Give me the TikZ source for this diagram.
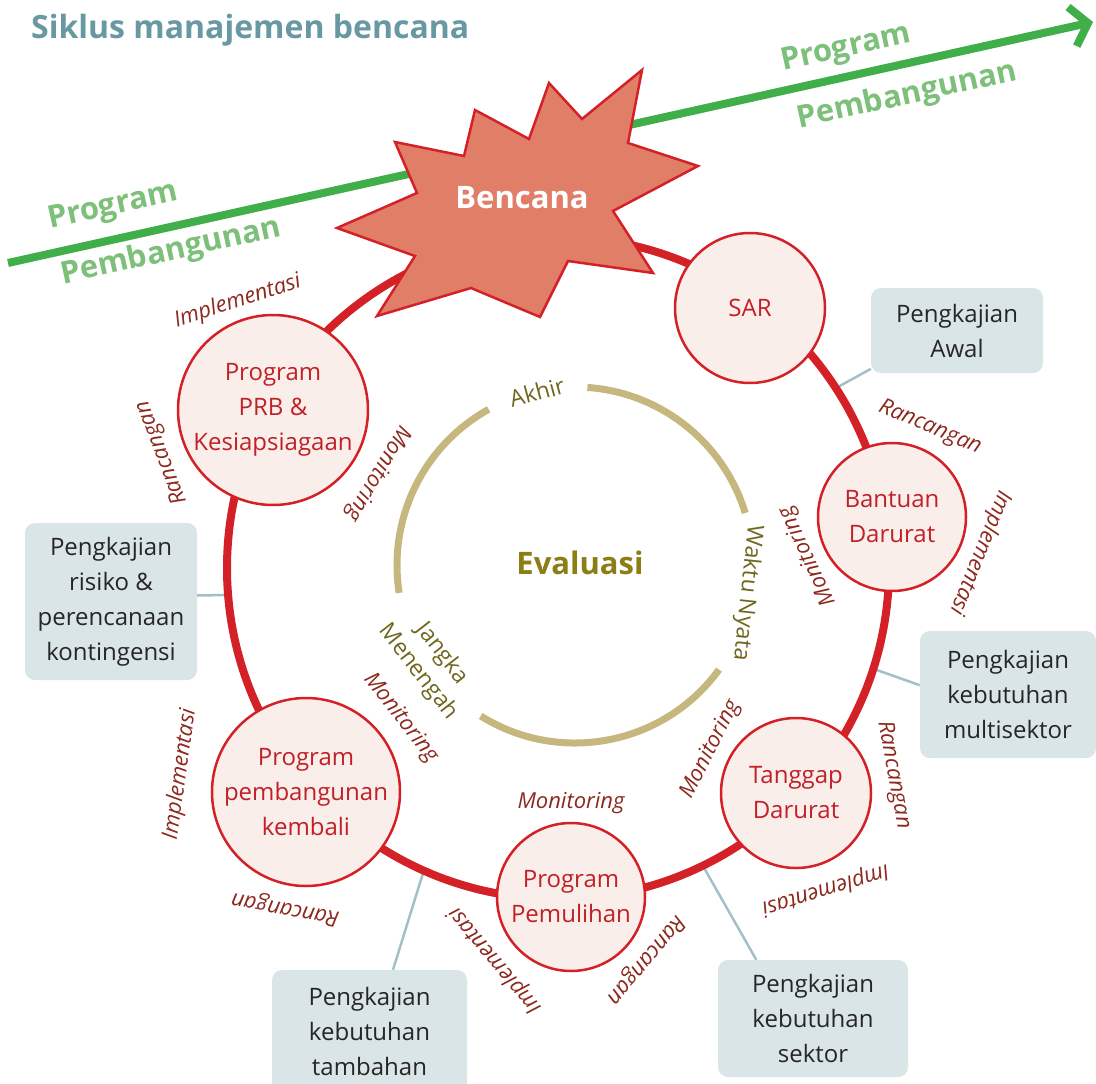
\documentclass[tikz,border=0pt]{standalone}
\usepackage{fontspec}
\setmainfont{Open Sans}
\usetikzlibrary{arrows.meta}
\definecolor{ringred}{RGB}{212,33,39}
\definecolor{stagefill}{RGB}{250,238,235}
\definecolor{stagetext}{RGB}{192,32,38}
\definecolor{phasetext}{RGB}{140,40,30}
\definecolor{boxfill}{RGB}{218,229,231}
\definecolor{boxline}{RGB}{163,192,201}
\definecolor{evalring}{RGB}{197,183,126}
\definecolor{evaltext}{RGB}{112,102,30}
\definecolor{evalbold}{RGB}{140,125,20}
\definecolor{devgreen}{RGB}{64,174,73}
\definecolor{devtext}{RGB}{125,192,122}
\definecolor{starfill}{RGB}{224,126,103}
\definecolor{titleblue}{RGB}{104,152,162}

\begin{document}
\begin{tikzpicture}[x=1pt,y=1pt,line join=round]
    \tikzstyle{stage} = [circle,draw=ringred,line width=2.5pt,fill=stagefill,
                         text=stagetext,align=center,inner sep=0pt,
                         font=\fontsize{24}{35}\selectfont]
    \tikzstyle{assess} = [fill=boxfill,rounded corners=10pt,align=center,
                          text=black!85,inner sep=0pt,font=\fontsize{24}{35}\selectfont]
    \tikzstyle{phase} = [text=phasetext,inner sep=1pt,
                         font=\fontsize{22}{26}\selectfont\itshape]
    \tikzstyle{evalann} = [text=evaltext,align=center,inner sep=1pt,
                           font=\fontsize{23}{30}\selectfont]
    \tikzstyle{devann} = [text=devtext,rotate=12.5,inner sep=0pt,
                          font=\fontsize{31}{36}\selectfont\bfseries]
    \tikzstyle{link} = [draw=boxline,line width=2.5pt]
    \useasboundingbox (0,0) rectangle (1096,-1084);
    \clip (0,0) rectangle (1096,-1084);
    % assessment boxes
    \node[assess,minimum width=172pt,minimum height=85pt] (awal) at (957,-330.5)
        {Pengkajian\\Awal};
    \node[assess,minimum width=172pt,minimum height=157pt] (risiko) at (111,-601.5)
        {Pengkajian\\risiko \&\\perencanaan\\kontingensi};
    \node[assess,minimum width=176pt,minimum height=127pt] (multi) at (1008,-694.5)
        {Pengkajian\\kebutuhan\\multisektor};
    \node[assess,minimum width=190pt,minimum height=117pt] (sektor) at (813,-1018.5)
        {Pengkajian\\kebutuhan\\sektor};
    \node[assess,minimum width=195pt,minimum height=122pt] (tambahan) at (369.5,-1031)
        {Pengkajian\\kebutuhan\\tambahan};
    \coordinate (pa) at (836,-388);
    \coordinate (pr) at (228,-595);
    \coordinate (pm) at (874,-669);
    \coordinate (ps) at (703,-866);
    \coordinate (pt) at (424,-870);
    \draw[link] (awal.204) -- (pa);
    \draw[link] (risiko.4) -- (pr);
    \draw[link] (multi.174) -- (pm);
    \draw[link] (sektor.134) -- (ps);
    \draw[link] (tambahan.69) -- (pt);
    % cycle and evaluation ring
    \draw[ringred,line width=8pt] (558,-568) circle (331);
    \draw[evalring,line width=7pt] (575,-565) ++(17:178) arc[start angle=17,end angle=86,radius=178];
    \draw[evalring,line width=7pt] (575,-565) ++(119:178) arc[start angle=119,end angle=189,radius=178];
    \draw[evalring,line width=7pt] (575,-565) ++(238:178) arc[start angle=238,end angle=324,radius=178];
    \node[text=evalbold,font=\fontsize{31}{36}\selectfont\bfseries] (eval) at (580,-563) {Evaluasi};
    \node[evalann,rotate=15] (akhir) at (537,-392) {Akhir};
    \node[evalann,rotate=-96] (waktu) at (747,-593) {Waktu Nyata};
    \node[evalann,rotate=-52] (jangka) at (430,-663) {Jangka\\Menengah};
    % development line and disaster
    \coordinate (devl) at (8,-263);
    \coordinate (devr) at (1093,-22);
    \draw[devgreen,line width=8pt,-{Straight Barb[length=16pt,width=40pt]}] (devl) -- (devr);
    \node[devann] (dev1a) at (113,-207) {Program};
    \node[devann] (dev1b) at (171,-252) {Pembangunan};
    \node[devann] (dev2a) at (846,-49) {Program};
    \node[devann] (dev2b) at (907,-96) {Pembangunan};
    \filldraw[fill=starfill,draw=ringred,line width=2.5pt,line join=miter]
        (395,-142)--(464,-156)--(475,-110)--(529,-139)--(549,-83)--(582,-119)
        --(642,-70)--(628,-143)--(698,-166)--(613,-211)--(653,-273)--(568,-261)
        --(540,-317)--(471,-288)--(377,-316)--(415,-256)--(337,-228)--(417,-193)--cycle;
    \node[text=white,font=\fontsize{31}{36}\selectfont\bfseries] (bencana) at (522,-198) {Bencana};
    % stages
    \node[stage,minimum size=150pt] (sar) at (750,-308) {SAR};
    \node[stage,minimum size=148pt] (bantuan) at (892,-517) {Bantuan\\Darurat};
    \node[stage,minimum size=150pt] (tanggap) at (796,-793) {Tanggap\\Darurat};
    \node[stage,minimum size=148pt] (pulih) at (571,-897) {Program\\Pemulihan};
    \node[stage,minimum size=188pt] (bangun) at (306,-792) {Program\\pembangunan\\kembali};
    \node[stage,minimum size=190pt] (prb) at (273,-410) {Program\\PRB \&\\Kesiapsiagaan};
    % design / implementation / monitoring around each stage
    \foreach \s/\a/\d/\t [count=\i] in {prb/108/114/Implementasi, prb/201/119/Rancangan,
            prb/-31/122/Monitoring, bantuan/67/97/Rancangan, bantuan/-22/95/Implementasi,
            bantuan/205/93/Monitoring, tanggap/10.5/99/Rancangan, tanggap/-73/101/Implementasi,
            tanggap/153/96/Monitoring, pulih/90/94/Monitoring, pulih/-40/97/Rancangan,
            pulih/220/99/Implementasi, bangun/38/120/Monitoring, bangun/172/127/Implementasi,
            bangun/-100/118/Rancangan}
        \path (\s) ++(\a:\d) node[phase,rotate=\a-90] (phase\i) {\t};
    \node[anchor=base west,inner sep=0pt,text=titleblue,font=\fontsize{32}{36}\selectfont\bfseries]
        (title) at (31,-38) {Siklus manajemen bencana};
\end{tikzpicture}
\end{document}
